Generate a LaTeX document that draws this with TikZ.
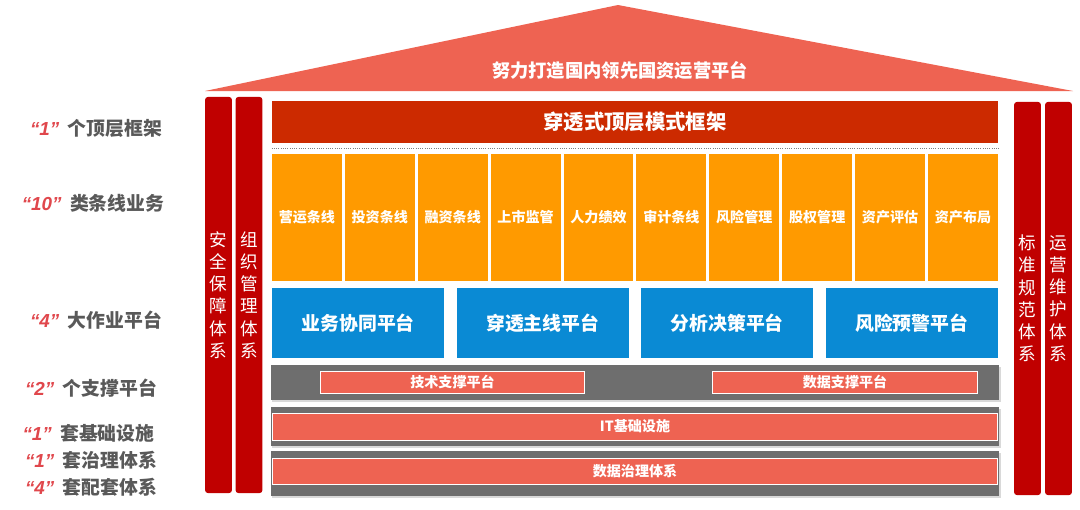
\documentclass[tikz,border=0pt]{standalone}
\usepackage{fontspec}
\setmainfont{Noto Sans CJK SC}
\newfontfamily\qfont{Liberation Sans}
\usepackage{xcolor}
\usetikzlibrary{shadows}

\definecolor{roofred}{HTML}{EE6352}
\definecolor{barred}{HTML}{CC2A00}
\definecolor{pillred}{HTML}{C00000}
\definecolor{colorange}{HTML}{FF9A00}
\definecolor{platblue}{HTML}{0A8AD4}
\definecolor{basegray}{HTML}{6E6E6E}
\definecolor{qred}{HTML}{E0474C}
\definecolor{tagtext}{HTML}{595959}

\newcommand\qn[1]{{\qfont\textcolor{qred}{\textit{“#1”}}}\hspace{6pt}}

\begin{document}
\begin{tikzpicture}[x=0.025cm, y=-0.025cm,
    pillar/.style = {fill=pillred, rounded corners=2pt, text=white, align=center,
                     inner sep=0pt, minimum width=0.67cm,
                     font=\fontsize{12.5}{15.8}\selectfont},
    frame/.style  = {fill=barred, text=white, inner sep=0pt, minimum width=18.15cm,
                     minimum height=1.05cm, font=\fontsize{14.5}{16}\selectfont\bfseries},
    biz/.style    = {fill=colorange, text=white, inner sep=0pt, minimum width=1.745cm,
                     minimum height=3.175cm, font=\fontsize{10}{12}\selectfont\bfseries},
    plat/.style   = {fill=platblue, text=white, inner sep=0pt, minimum width=4.31cm,
                     minimum height=1.75cm, font=\fontsize{13.4}{15}\selectfont\bfseries},
    base/.style   = {fill=basegray, inner sep=0pt, minimum width=18.2cm,
                     drop shadow={shadow xshift=1pt, shadow yshift=-1.5pt, opacity=0.3}},
    band/.style   = {fill=roofred, draw=white, line width=0.7pt, text=white, inner sep=0pt,
                     font=\fontsize{10}{12}\selectfont\bfseries},
    tag/.style    = {text=tagtext, font=\fontsize{13.4}{15}\selectfont\bfseries, inner sep=0pt},
  ]
    \useasboundingbox (0,0) rectangle (1080,509);

    % --- roof ---
    \fill[roofred] (205,91) -- (618,5) -- (1073,91) -- cycle;
    \node[text=white, font=\fontsize{13}{15}\selectfont\bfseries] (goal) at (620,70)
      {努力打造国内领先国资运营平台};

    % --- pillars ---
    \node[pillar, minimum height=9.9cm]   (sec) at (218.5,295)  {安\\全\\保\\障\\体\\系};
    \node[pillar, minimum height=9.9cm]   (org) at (249,295)    {组\\织\\管\\理\\体\\系};
    \node[pillar, minimum height=9.825cm] (std) at (1027.5,298.5) {标\\准\\规\\范\\体\\系};
    \node[pillar, minimum height=9.825cm] (ops) at (1058.5,298.5) {运\\营\\维\\护\\体\\系};

    % --- top-level frame ---
    \node[frame] (top) at (635,122) {穿透式顶层模式框架};
    \draw[densely dotted, gray, line width=0.6pt]
      ([yshift=-4pt]top.south west) -- ([yshift=-4pt]top.south east);

    % --- ten business lines ---
    \foreach \name [count=\i] in {营运条线, 投资条线, 融资条线, 上市监管, 人力绩效,
                                 审计条线, 风险管理, 股权管理, 资产评估, 资产布局}
      \node[biz] (b\i) at ({306.9+(\i-1)*72.9},217.5) {\name};

    % --- four platforms ---
    \node[plat] (p1) at (358.25,323) {业务协同平台};
    \node[plat] (p2) at (542.75,323) {穿透主线平台};
    \node[plat] (p3) at (727.25,323) {分析决策平台};
    \node[plat] (p4) at (911.75,323) {风险预警平台};

    % --- two support platforms ---
    \node[base, minimum height=0.875cm] (sup) at (635,382.5) {};
    \node[band, minimum width=6.575cm, minimum height=0.55cm] (tech) at (452.5,382) {技术支撑平台};
    \node[band, minimum width=6.6cm, minimum height=0.55cm]   (dsup) at (845,382)   {数据支撑平台};

    % --- infrastructure and governance ---
    \node[base, minimum height=0.975cm] (itb) at (635,426.5) {};
    \node[band, minimum width=18.1cm, minimum height=0.675cm] (it) at (635,426.5) {IT基础设施};
    \node[base, minimum height=1.125cm] (govb) at (635,473.5) {};
    \node[band, minimum width=18.1cm, minimum height=0.65cm] (gov) at (635,471) {数据治理体系};

    % --- left captions ---
    \node[tag] (t1) at (96,128)   {\qn{1}个顶层框架};
    \node[tag] (t2) at (93,203)   {\qn{10}类条线业务};
    \node[tag] (t3) at (96,320)   {\qn{4}大作业平台};
    \node[tag] (t4) at (91,388)   {\qn{2}个支撑平台};
    \node[tag] (t5) at (88.5,433) {\qn{1}套基础设施};
    \node[tag] (t6) at (91,460)   {\qn{1}套治理体系};
    \node[tag] (t7) at (91,487)   {\qn{4}套配套体系};
  \end{tikzpicture}
\end{document}
